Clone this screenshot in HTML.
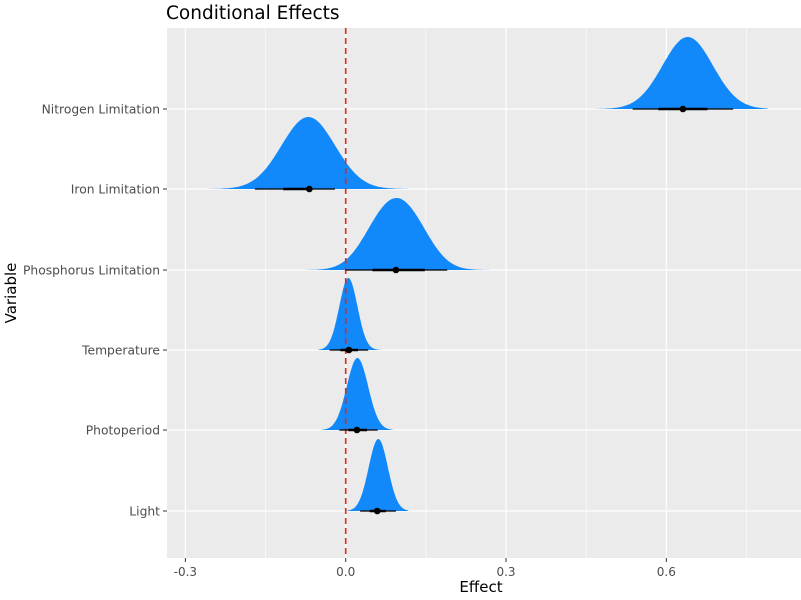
<!DOCTYPE html>
<html><head><meta charset="utf-8"><style>
html,body{margin:0;padding:0;background:#fff;}
svg{display:block;font-family:"DejaVu Sans","Liberation Sans",sans-serif;}
</style></head><body>
<svg id="s" width="801" height="600" viewBox="0 0 801 600">
<rect x="0" y="0" width="801" height="600" fill="#fff"/>
<rect x="167" y="28" width="634" height="530" fill="#ebebeb"/>
<g id="grid"></g>
<g id="dens"></g>
<line x1="345.7" y1="28" x2="345.7" y2="558" stroke="#e0281e" stroke-width="1.6" stroke-dasharray="6,4"/>
<g id="ints"></g>
<text x="166" y="19" font-size="18.5" fill="#000">Conditional Effects</text>
<text x="481" y="592" font-size="15" text-anchor="middle" fill="#000">Effect</text>
<text transform="translate(16,293) rotate(-90)" font-size="15" text-anchor="middle" fill="#000">Variable</text>
<g id="lab"></g>
</svg>
<script>
var X=function(v){return 345.7+v*534.4;};
var ns="http://www.w3.org/2000/svg";
function el(p,t,a,txt){var e=document.createElementNS(ns,t);for(var k in a)e.setAttribute(k,a[k]);if(txt)e.textContent=txt;document.getElementById(p).appendChild(e);return e;}
[-0.15,0.15,0.45,0.75].forEach(function(v){el("grid","line",{x1:X(v),x2:X(v),y1:28,y2:558,stroke:"#fff","stroke-width":0.6});});
[-0.3,0,0.3,0.6].forEach(function(v){el("grid","line",{x1:X(v),x2:X(v),y1:28,y2:558,stroke:"#fff","stroke-width":1.2});
 el("lab","line",{x1:X(v),x2:X(v),y1:558,y2:562,stroke:"#333","stroke-width":1});
 el("lab","text",{x:X(v),y:576,"font-size":12,"text-anchor":"middle",fill:"#4d4d4d"},(v<0?"-":"")+Math.abs(v).toFixed(1));});
var d=[
["Nitrogen Limitation",109,[[0.64,0.047,1]],0.631,0.537,0.725,0.585,0.677,0.466,0.79],
["Iron Limitation",189,[[-0.07,0.05,1]],-0.068,-0.17,-0.02,-0.117,-0.07,-0.257,0.117],
["Phosphorus Limitation",270,[[0.07,0.04,0.8],[0.12,0.04,0.8]],0.094,0,0.19,0.05,0.148,-0.076,0.276],
["Temperature",350,[[0.005,0.017,1]],0.006,-0.03,0.042,-0.01,0.023,-0.052,0.068],
["Photoperiod",430,[[0.022,0.02,1]],0.021,-0.012,0.06,0.005,0.04,-0.044,0.088],
["Light",511,[[0.061,0.018,1]],0.059,0.027,0.094,0.045,0.075,0,0.117]];
d.forEach(function(r){var y=r[1];
 el("grid","line",{x1:167,x2:801,y1:y,y2:y,stroke:"#fff","stroke-width":1.2});
 el("lab","line",{x1:163,x2:167,y1:y,y2:y,stroke:"#333","stroke-width":1});
 el("lab","text",{x:160,y:y+4.5,"font-size":12.3,"text-anchor":"end",fill:"#4d4d4d"},r[0]);
 var lo=r[8],hi=r[9],n=120,pts=[],mx=0,vals=[];
 for(var i=0;i<=n;i++){var v=lo+(hi-lo)*i/n,s=0;r[2].forEach(function(g){s+=g[2]*Math.exp(-0.5*Math.pow((v-g[0])/g[1],2));});vals.push([v,s]);if(s>mx)mx=s;}
 var p="M"+X(lo)+","+y;vals.forEach(function(q){p+=" L"+X(q[0]).toFixed(1)+","+(y-72*q[1]/mx).toFixed(1);});p+=" L"+X(hi)+","+y+" Z";
 el("dens","path",{d:p,fill:"#1289fb"});
 el("ints","line",{x1:X(r[4]),x2:X(r[5]),y1:y,y2:y,stroke:"#000","stroke-width":1.2});
 el("ints","line",{x1:X(r[6]),x2:X(r[7]),y1:y,y2:y,stroke:"#000","stroke-width":2.6});
 el("ints","circle",{cx:X(r[3]),cy:y,r:3.3,fill:"#000"});
});
</script>
</body></html>
